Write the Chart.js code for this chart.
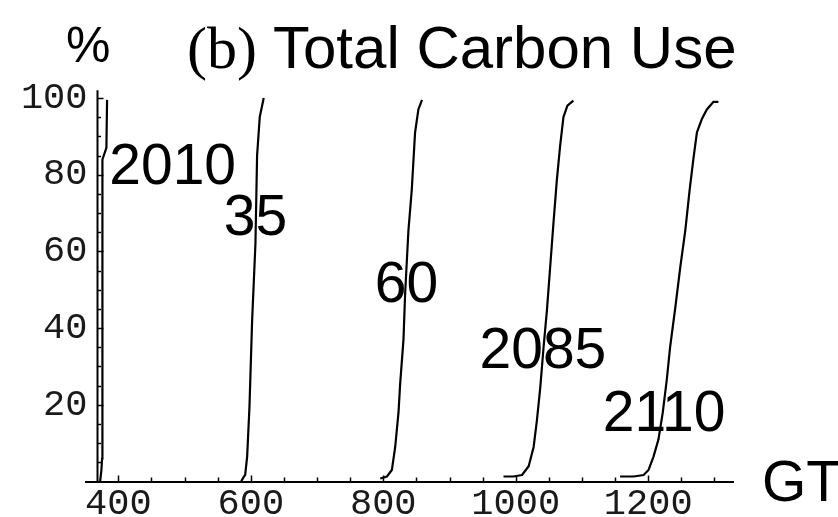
<!DOCTYPE html>
<html>
<head>
<meta charset="utf-8">
<script src="https://cdn.jsdelivr.net/npm/chart.js@4/dist/chart.umd.min.js"></script>
<style>
  html, body { margin: 0; padding: 0; background: #fff; }
  #wrap { width: 838px; height: 517px; }
</style>
</head>
<body>
<div id="wrap"><canvas id="c" width="838" height="517"></canvas></div>
<script>
// Cumulative share (%) of total carbon use (GT) reached, one curve per year
const years = ['2010', '35', '60', '2085', '2110'];

const gt2010  = [372.5, 374.5, 375.5, 376, 382, 383];
const pct2010 = [0, 3, 6, 84, 87, 99.5];

const gt2035  = [585.5, 588, 591.5, 594.5, 598, 602, 607, 609.5, 613.5, 619.5];
const pct2035 = [0, 0.8, 1.7, 6.5, 19.5, 42, 62, 85, 95, 100];

const gt2060  = [795.5, 805.5, 813, 818, 823, 825.5, 830.5, 833, 838, 843, 848, 853, 858.5];
const pct2060 = [0.8, 1.3, 3, 9, 18, 25.5, 37, 49, 65.5, 76, 91, 97, 99.5];

const gt2085  = [981.5, 996.5, 1009.5, 1019.5, 1027, 1032, 1037, 1042, 1047, 1052, 1057, 1062, 1067, 1072, 1078, 1087];
const pct2085 = [1.3, 1.3, 1.7, 4, 9, 16, 24.5, 35, 44.5, 56, 67.5, 78.5, 87.5, 95, 98, 99.3];

const gt2110  = [1157.5, 1178, 1193, 1200.5, 1208, 1215.5, 1222, 1228, 1233, 1241, 1248.5, 1256, 1262.5, 1268.5, 1273.5, 1281, 1288.5, 1298.5, 1306];
const pct2110 = [1.3, 1.3, 1.7, 3, 6.5, 11, 18, 26.5, 35, 45.5, 56, 65.5, 76, 84.5, 91, 94.5, 97, 99, 99];

const xTickValues = [400, 600, 800, 1000, 1200];
const yTickValues = [20, 40, 60, 80, 100];

const seriesGT  = [gt2010, gt2035, gt2060, gt2085, gt2110];
const seriesPct = [pct2010, pct2035, pct2060, pct2085, pct2110];

// where each year's name sits, in data units (GT, %)
const labelGT  = [482, 607, 835, 1041, 1224];
const labelPct = [83, 69.5, 52, 35, 18.5];

const X_MIN = 351.2, X_MAX = 1328, Y_MIN = 0, Y_MAX = 102;
const Y_AXIS_AT = 368.3;   // GT value where the vertical axis crosses

const datasets = years.map((name, i) => ({
  label: name,
  data: seriesGT[i].map((g, k) => ({ x: g, y: seriesPct[i][k] })),
  showLine: true,
  borderColor: '#000',
  borderWidth: 2.2,
  pointRadius: 0,
  fill: false,
  tension: 0
}));

const axesAndText = {
  id: 'axesAndText',
  afterDraw(chart) {
    const ctx = chart.ctx;
    const xs = chart.scales.x, ys = chart.scales.y;
    ctx.save();
    ctx.strokeStyle = '#000';
    ctx.fillStyle = '#000';

    // vertical axis
    const ax = Math.round(xs.getPixelForValue(Y_AXIS_AT)) + 0.5;
    const y0 = ys.getPixelForValue(0);
    ctx.lineWidth = 2;
    ctx.beginPath();
    ctx.moveTo(ax, y0 + 1);
    ctx.lineTo(ax, ys.getPixelForValue(Y_MAX));
    ctx.stroke();

    // tick marks on both axes
    ctx.lineWidth = 1.5;
    for (let v = 5; v <= 100; v += 5) {
      const py = Math.round(ys.getPixelForValue(v)) + 0.5;
      const len = v % 20 === 0 ? 6 : 3.5;
      ctx.beginPath();
      ctx.moveTo(ax, py);
      ctx.lineTo(ax + len, py);
      ctx.stroke();
    }
    for (let v = 400; v <= 1300; v += 50) {
      const px = Math.round(xs.getPixelForValue(v)) + 0.5;
      const len = v % 200 === 0 ? 6 : 4;
      ctx.beginPath();
      ctx.moveTo(px, y0);
      ctx.lineTo(px, y0 - len);
      ctx.stroke();
    }

    // year names beside their curves
    ctx.font = '57px "Liberation Sans", Arial, sans-serif';
    ctx.textAlign = 'center';
    ctx.textBaseline = 'alphabetic';
    years.forEach((name, i) => {
      const px = xs.getPixelForValue(labelGT[i]);
      const py = ys.getPixelForValue(labelPct[i]);
      ctx.fillText(name, px, py + 0.358 * 57);
    });

    // axis units and title
    ctx.textAlign = 'left';
    ctx.font = '50px "Liberation Sans", Arial, sans-serif';
    ctx.fillText('%', 66, 62);
    ctx.font = '57px "Liberation Sans", Arial, sans-serif';
    ctx.fillText('GT', 762, 501);
    ctx.font = '60px "Liberation Serif", "Times New Roman", serif';
    ctx.fillText('(b)', 187, 68);
    ctx.font = '60px "Liberation Sans", Arial, sans-serif';
    ctx.fillText('Total Carbon Use', 273, 68);
    ctx.restore();
  }
};

new Chart(document.getElementById('c'), {
  type: 'scatter',
  data: { datasets },
  options: {
    responsive: false,
    devicePixelRatio: 1,
    animation: false,
    layout: { padding: { left: 0, right: 105, top: 90.3, bottom: 0 } },
    plugins: { legend: { display: false }, tooltip: { enabled: false } },
    scales: {
      x: {
        type: 'linear',
        min: X_MIN, max: X_MAX,
        afterFit(s) { s.height = 35.5; },
        afterBuildTicks(s) { s.ticks = xTickValues.map(v => ({ value: v })); },
        grid: { display: false, drawTicks: false },
        border: { display: true, color: '#000', width: 2 },
        ticks: {
          padding: 1,
          color: '#1a1a1a',
          maxRotation: 0,
          autoSkip: false,
          font: { family: '"Liberation Mono", "Courier New", monospace', size: 37 },
          callback: v => String(v)
        }
      },
      y: {
        type: 'linear',
        min: Y_MIN, max: Y_MAX,
        afterFit(s) { s.width = 86; },
        afterBuildTicks(s) { s.ticks = yTickValues.map(v => ({ value: v })); },
        grid: { display: false, drawTicks: false },
        border: { display: false },
        ticks: {
          padding: -1.5,
          color: '#1a1a1a',
          autoSkip: false,
          font: { family: '"Liberation Mono", "Courier New", monospace', size: 37 },
          callback: v => String(v)
        }
      }
    }
  },
  plugins: [axesAndText]
});
</script>
</body>
</html>
